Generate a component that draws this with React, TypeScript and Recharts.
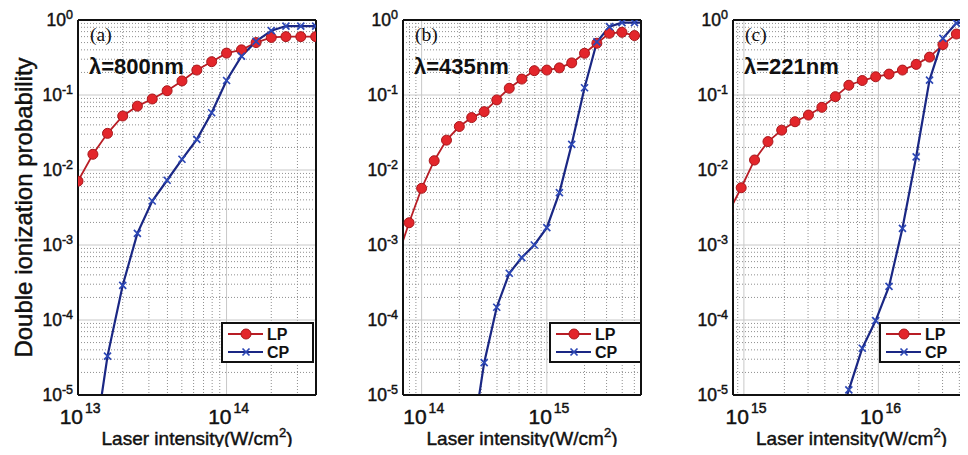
import React from "react";
import { LineChart, Line, XAxis, YAxis, CartesianGrid, Legend } from "recharts";

// shared y axis ticks (probability, log scale)
const yTicks = [1e-5, 1e-4, 1e-3, 1e-2, 1e-1, 1];

// (a) λ = 800 nm
const intensityA = [1e13, 1.26e13, 1.58e13, 2e13, 2.51e13, 3.16e13, 3.98e13, 5.01e13, 6.31e13, 7.94e13, 1e14, 1.26e14, 1.58e14, 2e14, 2.51e14, 3.16e14, 3.98e14];
const lpA = [7.1e-3, 1.62e-2, 3.08e-2, 5.25e-2, 7.1e-2, 8.85e-2, 0.114, 0.154, 0.215, 0.278, 0.362, 0.4, 0.5, 0.585, 0.6, 0.6, 0.6];
const cpA = [null, 1.6e-6, 3.3e-5, 2.9e-4, 1.43e-3, 3.86e-3, 7.3e-3, 1.39e-2, 2.56e-2, 5.8e-2, 0.156, 0.33, 0.52, 0.72, 0.83, 0.83, 0.83];
const xTicksA = [1e13, 1e14];

// (b) λ = 435 nm
const intensityB = [6.31e13, 7.94e13, 1e14, 1.26e14, 1.58e14, 2e14, 2.51e14, 3.16e14, 3.98e14, 5.01e14, 6.31e14, 7.94e14, 1e15, 1.26e15, 1.58e15, 2e15, 2.51e15, 3.16e15, 3.98e15, 5.01e15, 6.31e15];
const lpB = [6.3e-4, 1.98e-3, 5.7e-3, 1.33e-2, 2.5e-2, 3.8e-2, 5.0e-2, 6.0e-2, 8.6e-2, 0.123, 0.163, 0.211, 0.215, 0.23, 0.268, 0.36, 0.49, 0.665, 0.685, 0.62, 0.6];
const cpB = [null, null, null, null, null, null, 2.2e-6, 2.7e-5, 1.48e-4, 4.2e-4, 6.8e-4, 1.0e-3, 1.7e-3, 5.0e-3, 2.2e-2, 0.125, 0.51, 0.815, 0.92, 0.92, 0.92];
const xTicksB = [1e14, 1e15];

// (c) λ = 221 nm
const intensityC = [7.59e14, 9.55e14, 1.2e15, 1.51e15, 1.91e15, 2.4e15, 3.02e15, 3.8e15, 4.79e15, 6.03e15, 7.59e15, 9.55e15, 1.2e16, 1.51e16, 1.91e16, 2.4e16, 3.02e16, 3.8e16, 4.79e16];
const lpC = [2.6e-3, 5.8e-3, 1.36e-2, 2.39e-2, 3.4e-2, 4.4e-2, 5.4e-2, 6.85e-2, 9.5e-2, 0.135, 0.156, 0.175, 0.19, 0.215, 0.256, 0.32, 0.47, 0.65, 0.72];
const cpC = [null, null, null, null, null, null, null, null, 3.2e-6, 1.17e-5, 4.2e-5, 9.8e-5, 2.8e-4, 1.67e-3, 1.5e-2, 0.158, 0.57, 0.91, 0.95];
const xTicksC = [1e15, 1e16];

const SANS = '"Liberation Sans", Arial, Helvetica, sans-serif';
const SERIF = '"Liberation Serif", "Times New Roman", serif';
const INK = "#111";
const LP_FILL = "#e3262b";
const LP_EDGE = "#a8181c";
const LP_LINE = "#b81d25";
const CP_LINE = "#1a2784";
const CP_MARK = "#2c47b5";

// a faint outline makes the scanned-looking labels a little heavier
const heavy = { stroke: INK, strokeWidth: 0.45, paintOrder: "stroke" } as const;

// minor grid / tick positions (2..9 x 10^n) inside a range
function minorValues(lo: number, hi: number) {
  const out: number[] = [];
  for (let e = Math.floor(Math.log10(lo)); e <= Math.ceil(Math.log10(hi)); e++) {
    for (let m = 2; m <= 9; m++) {
      const v = m * Math.pow(10, e);
      if (v > lo * 1.0001 && v < hi * 0.9999) out.push(v);
    }
  }
  return out;
}

const expOf = (v: number) => Math.round(Math.log10(v));

function XTick(props: any) {
  const { x, y, payload } = props;
  return (
    <g>
      <text x={x + 5} y={y + 29} textAnchor="end" fontSize={21} fontFamily={SANS} fill={INK} {...heavy}>10</text>
      <text x={x + 7} y={y + 18} fontSize={14} fontFamily={SANS} fill={INK} {...heavy}>{expOf(payload.value)}</text>
    </g>
  );
}

function YTick(props: any) {
  const { x, y, payload } = props;
  return (
    <text x={x - 5} y={y + 6} textAnchor="end" fontSize={17.5} fontFamily={SANS} fill={INK} {...heavy}>
      10<tspan dy={-7} fontSize={12.5}>{expOf(payload.value)}</tspan>
    </text>
  );
}

function XTitle(props: any) {
  const vb = props.viewBox;
  return (
    <text x={vb.x + vb.width / 2} y={vb.y + 50} textAnchor="middle" fontSize={19} fontFamily={SANS} fill={INK} {...heavy}>
      Laser intensity(W/cm<tspan dy={-8} fontSize={13}>2</tspan><tspan dy={8}>)</tspan>
    </text>
  );
}

function YTitle(props: any) {
  const vb = props.viewBox;
  const cx = vb.x + 32;
  const cy = vb.y + vb.height / 2;
  return (
    <text x={cx} y={cy} transform={`rotate(-90 ${cx} ${cy})`} textAnchor="middle" fontSize={24} fontFamily={SANS} fill={INK} {...heavy}>
      Double ionization probability
    </text>
  );
}

const lpDot = (p: any) => {
  const { cx, cy, key } = p;
  if (!Number.isFinite(cx) || !Number.isFinite(cy)) return <g key={key} />;
  return <circle key={key} cx={cx} cy={cy} r={5} fill={LP_FILL} stroke={LP_EDGE} strokeWidth={1} />;
};

const cpDot = (p: any) => {
  const { cx, cy, key } = p;
  if (!Number.isFinite(cx) || !Number.isFinite(cy)) return <g key={key} />;
  const s = 3.5;
  return (
    <path
      key={key}
      d={`M${cx - s},${cy - s}L${cx + s},${cy + s}M${cx - s},${cy + s}L${cx + s},${cy - s}`}
      stroke={CP_MARK}
      strokeWidth={1.7}
      fill="none"
    />
  );
};

function LegendBox() {
  return (
    <svg width={93} height={41} style={{ display: "block" }}>
      <rect x={1} y={1} width={91} height={39} fill="#fff" stroke={INK} strokeWidth={2} />
      <line x1={7} x2={42} y1={12} y2={12} stroke={LP_LINE} strokeWidth={1.8} />
      <circle cx={25} cy={12} r={5} fill={LP_FILL} stroke={LP_EDGE} />
      <text x={46} y={17.5} fontSize={16} fontWeight="bold" fontFamily={SANS} fill={INK}>LP</text>
      <line x1={7} x2={42} y1={30} y2={30} stroke={CP_LINE} strokeWidth={2.2} />
      <path d="M21.5,26.5L28.5,33.5M21.5,33.5L28.5,26.5" stroke={CP_MARK} strokeWidth={1.7} />
      <text x={46} y={35.5} fontSize={16} fontWeight="bold" fontFamily={SANS} fill={INK}>CP</text>
    </svg>
  );
}

interface PanelProps {
  left: number;
  width: number;
  yAxisWidth: number;
  xs: number[];
  lp: (number | null)[];
  cp: (number | null)[];
  domain: [number, number];
  xTicks: number[];
  tag: string;
  wavelength: string;
  legendLeft: number;
  showTitle?: boolean;
}

function Panel({ left, width, yAxisWidth, xs, lp, cp, domain, xTicks, tag, wavelength, legendLeft, showTitle }: PanelProps) {
  const data = xs.map((x, i) => ({ x, lp: lp[i], cp: cp[i] }));
  const xMinor = minorValues(domain[0], domain[1]);
  const yMinor = minorValues(1e-5, 1);
  const box = { stroke: INK, strokeWidth: 2 };
  const common = { type: "number" as const, scale: "log" as const, allowDataOverflow: true, tick: false, interval: 0 as const };

  return (
    <div style={{ position: "absolute", left, top: 0 }}>
      <LineChart width={width} height={455} data={data} margin={{ top: 20, right: 5, bottom: 0, left: 0 }}>
        <CartesianGrid verticalValues={xMinor} horizontalValues={yMinor} stroke="#8f8f8f" strokeDasharray="1 2" />
        <CartesianGrid verticalValues={xTicks} horizontalValues={yTicks} stroke="#c8c8c8" />
        <XAxis
          dataKey="x"
          type="number"
          scale="log"
          domain={domain}
          allowDataOverflow
          ticks={xTicks}
          interval={0}
          tick={(p: any) => <XTick {...p} />}
          tickLine={false}
          axisLine={false}
          tickSize={0}
          tickMargin={0}
          height={60}
          label={{ content: (p: any) => <XTitle {...p} /> }}
        />
        <YAxis
          type="number"
          scale="log"
          domain={[1e-5, 1]}
          allowDataOverflow
          ticks={yTicks}
          interval={0}
          tick={(p: any) => <YTick {...p} />}
          tickLine={false}
          axisLine={false}
          tickSize={0}
          tickMargin={0}
          width={yAxisWidth}
          label={showTitle ? { content: (p: any) => <YTitle {...p} /> } : undefined}
        />
        {/* box and inward ticks */}
        <XAxis xAxisId="bMaj" orientation="bottom" mirror dataKey="x" domain={domain} ticks={xTicks} height={1} tickSize={6} axisLine={box} tickLine={{ stroke: INK }} {...common} />
        <XAxis xAxisId="tMaj" orientation="top" mirror dataKey="x" domain={domain} ticks={xTicks} height={1} tickSize={6} axisLine={box} tickLine={{ stroke: INK }} {...common} />
        <XAxis xAxisId="bMin" orientation="bottom" mirror dataKey="x" domain={domain} ticks={xMinor} height={1} tickSize={3} axisLine={false} tickLine={{ stroke: INK }} {...common} />
        <XAxis xAxisId="tMin" orientation="top" mirror dataKey="x" domain={domain} ticks={xMinor} height={1} tickSize={3} axisLine={false} tickLine={{ stroke: INK }} {...common} />
        <YAxis yAxisId="lMaj" orientation="left" mirror domain={[1e-5, 1]} ticks={yTicks} width={1} tickSize={6} axisLine={box} tickLine={{ stroke: INK }} {...common} />
        <YAxis yAxisId="rMaj" orientation="right" mirror domain={[1e-5, 1]} ticks={yTicks} width={1} tickSize={6} axisLine={box} tickLine={{ stroke: INK }} {...common} />
        <YAxis yAxisId="lMin" orientation="left" mirror domain={[1e-5, 1]} ticks={yMinor} width={1} tickSize={3} axisLine={false} tickLine={{ stroke: INK }} {...common} />
        <YAxis yAxisId="rMin" orientation="right" mirror domain={[1e-5, 1]} ticks={yMinor} width={1} tickSize={3} axisLine={false} tickLine={{ stroke: INK }} {...common} />
        <Line dataKey="lp" name="LP" stroke={LP_LINE} strokeWidth={1.8} dot={lpDot} activeDot={false} isAnimationActive={false} />
        <Line dataKey="cp" name="CP" stroke={CP_LINE} strokeWidth={2.2} dot={cpDot} activeDot={false} isAnimationActive={false} />
        <Legend
          layout="horizontal"
          align="center"
          verticalAlign="middle"
          wrapperStyle={{ left: legendLeft, top: 322, width: 93, height: 41 }}
          content={() => <LegendBox />}
        />
      </LineChart>
      <div style={{ position: "absolute", left: yAxisWidth + 12, top: 25, fontFamily: SERIF, fontSize: 19.5, lineHeight: 1, color: INK }}>
        {tag}
      </div>
      <div style={{ position: "absolute", left: yAxisWidth + 11, top: 55.5, fontFamily: SANS, fontSize: 22, fontWeight: "bold", lineHeight: 1, color: INK, whiteSpace: "nowrap" }}>
        {wavelength}
      </div>
    </div>
  );
}

export default function App() {
  return (
    <div style={{ position: "relative", width: 968, height: 455, margin: -8, overflow: "hidden", background: "#fff" }}>
      <Panel left={0} width={321} yAxisWidth={78} xs={intensityA} lp={lpA} cp={cpA} domain={[1e13, 4e14]} xTicks={xTicksA} tag="(a)" wavelength="λ=800nm" legendLeft={221} showTitle />
      <Panel left={330} width={316} yAxisWidth={73} xs={intensityB} lp={lpB} cp={cpB} domain={[7.1e13, 5.65e15]} xTicks={xTicksB} tag="(b)" wavelength="λ=435nm" legendLeft={219} />
      <Panel left={655} width={320} yAxisWidth={78} xs={intensityC} lp={lpC} cp={cpC} domain={[8.3e14, 4.8e16]} xTicks={xTicksC} tag="(c)" wavelength="λ=221nm" legendLeft={224} />
    </div>
  );
}
